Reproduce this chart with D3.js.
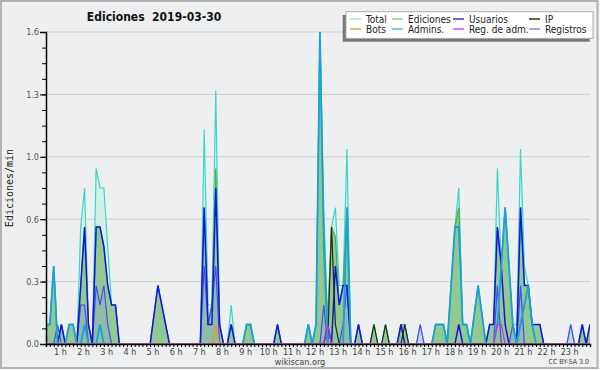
<!DOCTYPE html>
<html>
<head>
<meta charset="utf-8">
<script src="https://cdn.jsdelivr.net/npm/d3@7"></script>
<style>
  html, body { margin: 0; padding: 0; background: #f4f4f4; }
  svg { display: block; }
  text { font-family: "DejaVu Sans Condensed", "DejaVu Sans", sans-serif; font-stretch: condensed; }
</style>
</head>
<body>
<svg id="chart" width="600" height="370"></svg>
<script>
// 10 minute bins, one row per hour (6 values), values in edits/min
const total = [
  0.1, 0.1, 0.1, 0.1, 0.4, 0,
  0.1, 0, 0.1, 0.1, 0, 0.6,
  0.8, 0.1, 0, 0.9, 0.8, 0.8,
  0.5, 0.2, 0.2, 0, 0, 0,
  0, 0, 0, 0, 0, 0,
  0.15, 0.3, 0.2, 0.1, 0, 0,
  0, 0, 0, 0, 0, 0,
  0, 1.1, 0.2, 0.2, 1.3, 0.1,
  0, 0, 0.2, 0, 0, 0,
  0.1, 0.1, 0, 0, 0, 0,
  0, 0, 0.1, 0, 0, 0,
  0, 0, 0, 0, 0.1, 0,
  0.1, 1.6, 0.7, 0.1, 0.6, 0.7,
  0.3, 0.3, 1.0, 0, 0, 0.1,
  0, 0, 0, 0.1, 0, 0,
  0.1, 0, 0, 0, 0.1, 0.1,
  0, 0, 0, 0.1, 0, 0,
  0, 0.1, 0.1, 0.1, 0, 0.3,
  0.6, 0.8, 0.1, 0.1, 0, 0.15,
  0.3, 0.15, 0, 0.1, 0.1, 0.9,
  0.4, 0.7, 0.4, 0.1, 0.1, 1.0,
  0.4, 0.3, 0.1, 0.1, 0.1, 0,
  0, 0, 0, 0, 0, 0,
  0.1, 0, 0, 0.1, 0, 0.1
];
const edits = [
  0.1, 0.1, 0.1, 0.1, 0.4, 0,
  0.1, 0, 0.1, 0.1, 0, 0.3,
  0.6, 0.1, 0, 0.6, 0.6, 0.5,
  0.3, 0.2, 0.2, 0, 0, 0,
  0, 0, 0, 0, 0, 0,
  0.15, 0.3, 0.2, 0.1, 0, 0,
  0, 0, 0, 0, 0, 0,
  0, 0.7, 0.1, 0.2, 0.9, 0.1,
  0, 0, 0.1, 0, 0, 0,
  0.1, 0.1, 0, 0, 0, 0,
  0, 0, 0.1, 0, 0, 0,
  0, 0, 0, 0, 0.1, 0,
  0.1, 1.6, 0.6, 0.1, 0.6, 0.55,
  0.2, 0.3, 0.7, 0, 0, 0.1,
  0, 0, 0, 0.1, 0, 0,
  0.1, 0, 0, 0, 0.1, 0.1,
  0, 0, 0, 0, 0, 0,
  0, 0.1, 0.1, 0.1, 0, 0.3,
  0.6, 0.7, 0.1, 0.1, 0, 0.15,
  0.3, 0.15, 0, 0.1, 0.1, 0.6,
  0.4, 0.7, 0.4, 0.1, 0, 0.7,
  0.3, 0.3, 0.1, 0.1, 0.1, 0,
  0, 0, 0, 0, 0, 0,
  0, 0, 0, 0.1, 0, 0.1
];
const users = [
  0, 0, 0, 0, 0, 0,
  0.1, 0, 0, 0, 0, 0.3,
  0.6, 0.1, 0, 0.6, 0.6, 0.5,
  0.3, 0.2, 0.2, 0, 0, 0,
  0, 0, 0, 0, 0, 0,
  0.15, 0.3, 0.2, 0.1, 0, 0,
  0, 0, 0, 0, 0, 0,
  0, 0.7, 0.1, 0.1, 0.8, 0.1,
  0, 0, 0.1, 0, 0, 0,
  0, 0, 0, 0, 0, 0,
  0, 0, 0.1, 0, 0, 0,
  0, 0, 0, 0, 0, 0,
  0, 0, 0, 0.1, 0, 0.4,
  0.2, 0.3, 0.3, 0, 0, 0.1,
  0, 0, 0, 0, 0, 0,
  0, 0, 0, 0, 0.1, 0,
  0, 0, 0, 0, 0, 0,
  0, 0, 0, 0, 0, 0,
  0, 0.1, 0, 0, 0, 0,
  0, 0, 0, 0.1, 0.1, 0.6,
  0.4, 0.1, 0, 0, 0, 0.7,
  0.3, 0.3, 0.1, 0.1, 0.1, 0,
  0, 0, 0, 0, 0, 0,
  0, 0, 0, 0.1, 0, 0.1
];
const ip = [
  0, 0, 0, 0, 0, 0,  0, 0, 0, 0, 0, 0,  0, 0, 0, 0, 0, 0,  0, 0, 0, 0, 0, 0,
  0, 0, 0, 0, 0, 0,  0, 0, 0, 0, 0, 0,  0, 0, 0, 0, 0, 0,  0, 0, 0, 0, 0, 0,
  0, 0, 0, 0, 0, 0,  0, 0, 0, 0, 0, 0,  0, 0, 0, 0, 0, 0,  0, 0, 0, 0, 0, 0,
  0, 0, 0, 0, 0.6, 0.1,  0, 0, 0, 0, 0, 0,  0, 0, 0, 0.1, 0, 0,  0.1, 0, 0, 0, 0, 0.1,
  0, 0, 0, 0, 0, 0,  0, 0, 0, 0, 0, 0,  0, 0, 0, 0, 0, 0,  0, 0, 0, 0, 0, 0,
  0, 0, 0, 0, 0, 0,  0, 0, 0, 0, 0, 0,  0, 0, 0, 0, 0, 0,  0, 0, 0, 0, 0, 0
];
const admins = [
  0.1, 0.1, 0.1, 0.1, 0.4, 0,
  0, 0, 0.1, 0.1, 0, 0,
  0.1, 0, 0, 0, 0.1, 0,
  0, 0, 0, 0, 0, 0,
  0, 0, 0, 0, 0, 0,
  0, 0, 0, 0, 0, 0,
  0, 0, 0, 0, 0, 0,
  0, 0, 0, 0, 0, 0,
  0, 0, 0, 0, 0, 0,
  0.1, 0.1, 0, 0, 0, 0,
  0, 0, 0, 0, 0, 0,
  0, 0, 0, 0, 0.1, 0,
  0.1, 1.6, 0.5, 0, 0, 0,
  0, 0, 0.7, 0, 0, 0,
  0, 0, 0, 0, 0, 0,
  0, 0, 0, 0, 0, 0,
  0, 0, 0, 0, 0, 0,
  0, 0.1, 0.1, 0.1, 0, 0.3,
  0.6, 0.6, 0.1, 0.1, 0, 0.15,
  0.3, 0.15, 0, 0, 0, 0.1,
  0.4, 0.7, 0.4, 0.1, 0, 0.1,
  0.2, 0.3, 0.1, 0, 0, 0,
  0, 0, 0, 0, 0, 0,
  0, 0, 0, 0, 0, 0
];
const registros = [
  0, 0, 0, 0, 0, 0.1,
  0, 0, 0, 0, 0, 0.2,
  0.2, 0, 0, 0.3, 0.2, 0.3,
  0.1, 0, 0, 0, 0, 0,
  0, 0, 0, 0, 0, 0,
  0, 0, 0, 0, 0, 0,
  0, 0, 0, 0, 0, 0,
  0, 0.4, 0.1, 0.2, 0.4, 0,
  0, 0, 0, 0, 0, 0,
  0, 0, 0, 0, 0, 0,
  0, 0, 0, 0, 0, 0,
  0, 0, 0, 0, 0, 0,
  0, 0, 0.2, 0, 0, 0,
  0, 0.1, 0.3, 0, 0, 0,
  0, 0, 0, 0, 0, 0,
  0, 0, 0, 0, 0, 0,
  0, 0, 0, 0.1, 0, 0,
  0, 0, 0, 0, 0, 0,
  0, 0, 0, 0, 0, 0,
  0, 0, 0, 0, 0, 0.3,
  0, 0, 0, 0.1, 0, 0.3,
  0, 0, 0, 0, 0, 0,
  0, 0, 0, 0, 0, 0,
  0.1, 0, 0, 0, 0, 0
];
const bots = new Array(144).fill(0);
bots[46] = 0.1;
const regAdm = new Array(144).fill(0);
regAdm[75] = 0.1; regAdm[119] = 0.1; regAdm[120] = 0.1;

const yTicks = [0, 0.32, 0.64, 0.96, 1.28, 1.6];
const hourLabels = d3.range(1, 24).map(h => h + " h");
const legendLabels = ["Total", "Ediciones", "Usuarios", "IP", "Bots", "Admins.", "Reg. de adm.", "Registros"];
const legendColors = ["#a6e2da", "#8ccf8c", "#3a3ad6", "#2e2e2e", "#f0a040", "#44c6e6", "#d052de", "#8484ee"];

const minutes = d3.range(0, 1440, 10);

const svg = d3.select("#chart");
const mLeft = 46, mRight = 590, mTop = 32, mBottom = 344;

svg.append("rect").attr("x", 1).attr("y", 1).attr("width", 596.5).attr("height", 367)
  .attr("fill", "#eeeff0").attr("stroke", "#b2b2b2").attr("stroke-width", 2);

const x = d3.scaleLinear().domain([20, 1430]).range([mLeft, mRight]);
const y = d3.scaleLinear().domain([0, 1.6]).range([mBottom, mTop]);

// grid
svg.append("g").selectAll("line").data(yTicks.slice(1)).join("line")
  .attr("x1", mLeft).attr("x2", mRight)
  .attr("y1", d => y(d)).attr("y2", d => y(d))
  .attr("stroke", "#cdcdcd").attr("stroke-width", 1);

svg.append("defs").append("clipPath").attr("id", "plot")
  .append("rect").attr("x", mLeft).attr("y", 0).attr("width", mRight - mLeft).attr("height", mBottom);

const g = svg.append("g").attr("clip-path", "url(#plot)");

const area = vals => d3.area().x((d, i) => x(minutes[i])).y0(y(0)).y1((d, i) => y(vals[i]))(vals);
const line = vals => d3.line().x((d, i) => x(minutes[i])).y((d, i) => y(vals[i]))(vals);

g.append("path").attr("d", area(total)).attr("fill", "#d5efea");
g.append("path").attr("d", line(total)).attr("fill", "none").attr("stroke", "#3cd6c6").attr("stroke-width", 1.2);
g.append("path").attr("d", area(edits)).attr("fill", "#92c992");
g.append("path").attr("d", line(edits)).attr("fill", "none").attr("stroke", "#4cae4c").attr("stroke-width", 1.2);
g.append("path").attr("d", area(registros)).attr("fill", "#7f8fe8").attr("fill-opacity", 0.22);
g.append("path").attr("d", line(registros)).attr("fill", "none").attr("stroke", "#4a4af0").attr("stroke-width", 1.2);
g.append("path").attr("d", line(users)).attr("fill", "none").attr("stroke", "#1414e0").attr("stroke-width", 1.5);
g.append("path").attr("d", line(ip)).attr("fill", "none").attr("stroke", "#1e2a1e").attr("stroke-width", 1.2);
g.append("path").attr("d", line(admins)).attr("fill", "none").attr("stroke", "#1aa2d8").attr("stroke-width", 1.8);
g.append("path").attr("d", line(bots)).attr("fill", "none").attr("stroke", "#f0922a").attr("stroke-width", 1.2);
g.append("path").attr("d", line(regAdm)).attr("fill", "none").attr("stroke", "#d030d0").attr("stroke-width", 1.2);

// y axis
const yMinor = svg.append("g").attr("transform", `translate(${mLeft},0)`)
  .call(d3.axisLeft(y).tickValues(d3.range(0, 1.61, 0.08)).tickSize(4).tickFormat(""));
yMinor.select(".domain").remove();
const yAxis = svg.append("g").attr("transform", `translate(${mLeft},0)`)
  .call(d3.axisLeft(y).tickValues(yTicks).tickSize(6).tickPadding(1).tickFormat(d3.format(".1f")));
yAxis.select(".domain").attr("stroke", "#000").attr("stroke-width", 1.5);
svg.selectAll("g.tick line").attr("stroke", "#000");
yAxis.selectAll("text").attr("font-size", 9).attr("fill", "#555");

// x axis
const xAxis = svg.append("g").attr("transform", `translate(0,${mBottom})`)
  .call(d3.axisBottom(x).tickValues(minutes.filter(m => m >= 20)).tickSize(3).tickFormat(""));
xAxis.select(".domain").attr("stroke", "#000").attr("stroke-width", 1.5);
xAxis.selectAll(".tick line").attr("stroke", "#000");
svg.append("g").selectAll("text").data(hourLabels).join("text")
  .attr("x", (d, i) => x((i + 1) * 60) - 1)
  .attr("y", 355)
  .attr("text-anchor", "middle")
  .attr("font-size", 9).attr("fill", "#444")
  .text(d => d);

// titles
svg.append("text").attr("x", 154).attr("y", 21).attr("text-anchor", "middle")
  .style("white-space", "pre")
  .attr("font-size", 12).attr("font-weight", "bold").attr("fill", "#111")
  .text("Ediciones  2019-03-30");
svg.append("text").attr("transform", "translate(13,188) rotate(-90)").attr("text-anchor", "middle")
  .style("font-family", "'DejaVu Sans Mono', monospace").style("font-stretch", "normal")
  .attr("font-size", 10).attr("fill", "#222").text("Ediciones/min");
svg.append("text").attr("x", 300).attr("y", 365).attr("text-anchor", "middle")
  .attr("font-size", 9).attr("fill", "#444").text("wikiscan.org");
svg.append("text").attr("x", 589).attr("y", 364).attr("text-anchor", "end")
  .attr("font-size", 7).attr("fill", "#444").text("CC BY-SA 3.0");

// legend
const lg = svg.append("g");
lg.append("rect").attr("x", 342.7).attr("y", 15).attr("width", 247).attr("height", 26.7).attr("fill", "#777");
lg.append("rect").attr("x", 346).attr("y", 11.7).attr("width", 247).attr("height", 26.7)
  .attr("fill", "#fff").attr("stroke", "#aaa").attr("stroke-width", 1);
const colX = [366, 408, 469, 545];
legendLabels.forEach((lab, i) => {
  const cx = colX[i % 4], cy = i < 4 ? 19 : 29;
  lg.append("line").attr("x1", cx - 16).attr("x2", cx - 5).attr("y1", cy).attr("y2", cy)
    .attr("stroke", legendColors[i]).attr("stroke-width", 1.5);
  lg.append("text").attr("x", cx).attr("y", cy + 3.5).attr("font-size", 10).attr("fill", "#222").text(lab);
});
</script>
</body>
</html>
